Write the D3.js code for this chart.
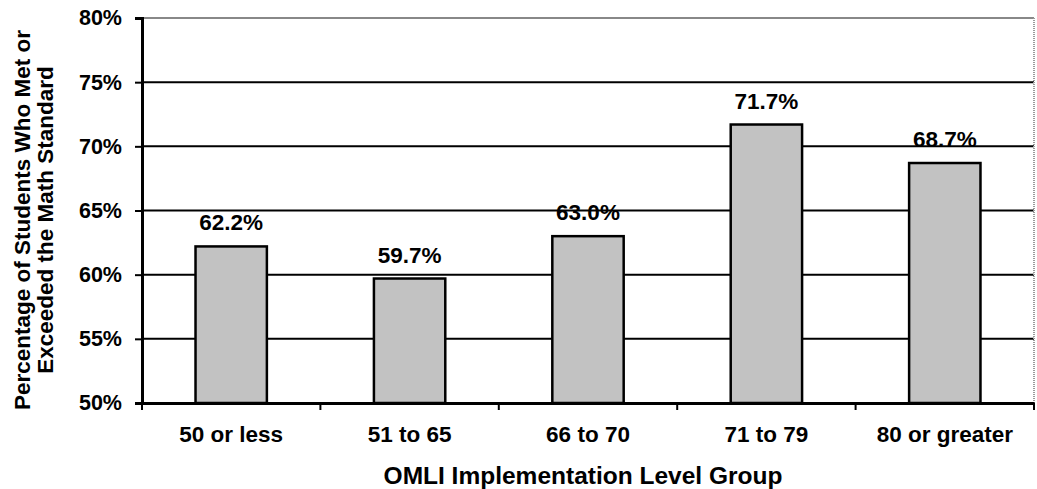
<!DOCTYPE html>
<html><head><meta charset="utf-8">
<script src="https://cdn.jsdelivr.net/npm/d3@7"></script>
<style>body{margin:0;background:#fff}text{font-family:"Liberation Sans",Arial,sans-serif;font-weight:bold;fill:#000}</style>
</head><body>
<svg id="c" width="1037" height="489"></svg>
<script>
const categories = ["50 or less","51 to 65","66 to 70","71 to 79","80 or greater"];
const values = [62.2, 59.7, 63.0, 71.7, 68.7];
const labels = ["62.2%","59.7%","63.0%","71.7%","68.7%"];
const yTicks = [50,55,60,65,70,75,80];

const svg = d3.select("#c");
const L=142, R=1034, T=18, B=403;
const x = d3.scaleBand().domain(categories).range([L,R]).paddingInner(0.6).paddingOuter(0.3);
const y = d3.scaleLinear().domain([50,80]).range([B,T]);

// gridlines
svg.append("g").selectAll("line").data(yTicks.filter(d=>d>50&&d<80)).join("line")
  .attr("x1",L).attr("x2",R).attr("y1",d=>y(d)).attr("y2",d=>y(d))
  .attr("stroke","#000").attr("stroke-width",2);
// top & right border (grey)
svg.append("line").attr("x1",L).attr("x2",R).attr("y1",T).attr("y2",T).attr("stroke","#888").attr("stroke-width",2);
svg.append("line").attr("x1",R).attr("x2",R).attr("y1",T).attr("y2",B).attr("stroke","#999").attr("stroke-width",2).attr("stroke-dasharray","1,1");

// bars
svg.append("g").selectAll("rect").data(values).join("rect")
  .attr("x",(d,i)=>x(categories[i])).attr("width",x.bandwidth())
  .attr("y",d=>y(d)).attr("height",d=>B-y(d))
  .attr("fill","#c2c2c2").attr("stroke","#000").attr("stroke-width",2.5);

// value labels
svg.append("g").selectAll("text").data(values).join("text")
  .attr("x",(d,i)=>x(categories[i])+x.bandwidth()/2).attr("y",d=>y(d)-16)
  .attr("text-anchor","middle").attr("font-size",22.5).text((d,i)=>labels[i]);

// y axis
const ya = svg.append("g").attr("transform",`translate(${L},0)`)
  .call(d3.axisLeft(y).tickValues(yTicks).tickFormat(d=>d+"%").tickSize(7).tickPadding(13));
ya.select(".domain").attr("stroke","#000").attr("stroke-width",3);
ya.selectAll(".tick line").attr("stroke","#000").attr("stroke-width",2);
ya.selectAll(".tick text").attr("font-size",21.5).attr("font-family","Liberation Sans, Arial").attr("font-weight","bold");

// x axis
const xa = svg.append("g").attr("transform",`translate(0,${B})`)
  .call(d3.axisBottom(x).tickSize(0).tickPadding(23));
xa.select(".domain").attr("stroke","#000").attr("stroke-width",3);
xa.selectAll(".tick text").attr("font-size",22.5).attr("font-family","Liberation Sans, Arial").attr("font-weight","bold");
const bounds = d3.range(categories.length+1).map(i=>L+i*(R-L)/categories.length);
svg.append("g").selectAll("line").data(bounds).join("line")
  .attr("x1",d=>d).attr("x2",d=>d).attr("y1",B).attr("y2",B+7).attr("stroke","#000").attr("stroke-width",2);

// axis titles
svg.append("text").attr("x",583).attr("y",484).attr("text-anchor","middle").attr("font-size",24.5).text("OMLI Implementation Level Group");
const yt = svg.append("text").attr("transform","translate(0,220) rotate(-90)").attr("text-anchor","middle").attr("font-size",22.5);
yt.append("tspan").attr("x",0).attr("y",30).text("Percentage of Students Who Met or");
yt.append("tspan").attr("x",0).attr("y",53).text("Exceeded the Math Standard");
</script>
</body></html>
